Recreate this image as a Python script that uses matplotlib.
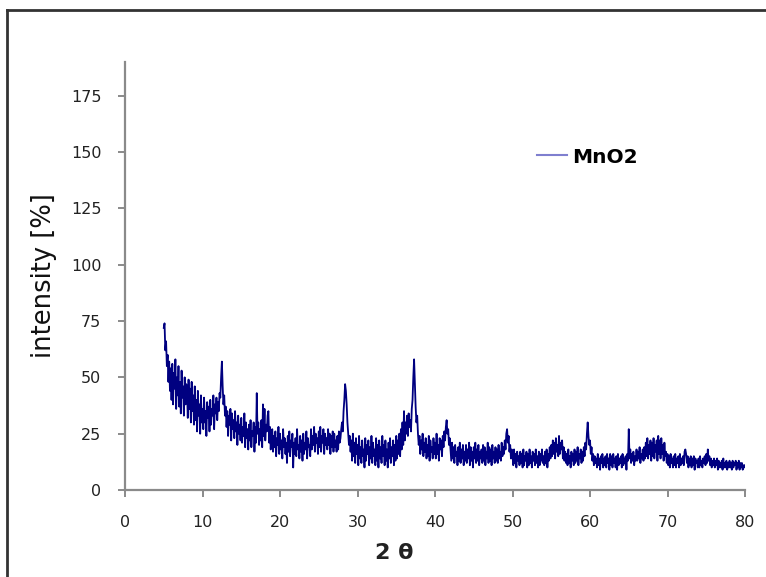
import numpy as np
import matplotlib
matplotlib.use("Agg")
import matplotlib.pyplot as plt
from matplotlib.lines import Line2D

# XRD pattern of MnO2 (0.1 deg step from 5 to 80)
intensity = [
    72, 74, 62, 66, 55, 60, 48, 57, 44, 54,   # 5
    40, 56, 38, 52, 45, 58, 36, 50, 42, 55,   # 6
    37, 48, 34, 53, 41, 46, 33, 50, 38, 47,   # 7
    44, 32, 49, 36, 45, 30, 48, 35, 42, 29,   # 8
    46, 31, 40, 26, 44, 33, 38, 25, 42, 30,   # 9
    36, 27, 41, 30, 35, 24, 39, 32, 37, 26,   # 10
    40, 29, 36, 33, 42, 27, 38, 34, 41, 31,   # 11
    39, 35, 43, 41, 50, 57, 46, 38, 42, 33,   # 12
    37, 28, 35, 24, 33, 29, 36, 22, 34, 27,   # 13
    31, 23, 35, 26, 30, 20, 33, 25, 29, 22,   # 14
    32, 21, 28, 24, 34, 19, 30, 23, 27, 18,   # 15
    29, 22, 31, 19, 26, 24, 30, 17, 28, 21,   # 16
    43, 25, 30, 20, 27, 22, 31, 19, 38, 24,   # 17
    36, 22, 29, 26, 33, 35, 21, 28, 18, 25,   # 18
    27, 17, 24, 19, 26, 15, 23, 20, 28, 16,   # 19
    25, 18, 22, 14, 27, 19, 23, 16, 21, 12,   # 20
    24, 17, 26, 15, 22, 19, 25, 10, 21, 16,   # 21
    23, 15, 27, 18, 20, 14, 24, 17, 22, 13,   # 22
    25, 16, 21, 18, 26, 14, 23, 19, 20, 15,   # 23
    27, 18, 24, 20, 28, 17, 25, 21, 23, 16,   # 24
    26, 19, 28, 17, 24, 21, 27, 16, 25, 20,   # 25
    23, 18, 27, 20, 25, 16, 24, 19, 26, 17,   # 26
    25, 19, 22, 17, 24, 18, 26, 21, 23, 27,   # 27
    30, 26, 35, 40, 47, 44, 38, 30, 25, 20,   # 28
    24, 17, 22, 13, 25, 15, 21, 12, 23, 16,   # 29
    20, 11, 24, 14, 19, 12, 22, 15, 18, 10,   # 30
    23, 13, 20, 16, 22, 11, 19, 14, 24, 12,   # 31
    21, 15, 18, 11, 23, 13, 20, 10, 22, 14,   # 32
    19, 12, 24, 15, 20, 11, 22, 13, 18, 10,   # 33
    21, 14, 23, 12, 19, 15, 22, 11, 20, 13,   # 34
    24, 14, 22, 16, 25, 15, 27, 18, 30, 20,   # 35
    35, 22, 30, 25, 33, 24, 34, 28, 31, 26,   # 36
    36, 40, 50, 58, 48, 37, 30, 33, 25, 20,   # 37
    24, 16, 22, 18, 25, 15, 21, 17, 23, 14,   # 38
    20, 15, 24, 13, 22, 17, 19, 14, 23, 16,   # 39
    21, 14, 25, 16, 20, 13, 23, 18, 22, 15,   # 40
    24, 19, 26, 22, 28, 31, 25, 27, 20, 23,   # 41
    18, 13, 21, 14, 19, 12, 20, 15, 17, 11,   # 42
    19, 13, 21, 12, 18, 14, 20, 11, 17, 13,   # 43
    20, 12, 18, 14, 21, 11, 19, 13, 17, 10,   # 44
    19, 14, 21, 12, 18, 13, 20, 11, 17, 14,   # 45
    18, 12, 20, 13, 19, 11, 17, 14, 21, 12,   # 46
    19, 13, 18, 11, 20, 14, 17, 12, 19, 13,   # 47
    18, 12, 20, 14, 17, 13, 21, 15, 19, 16,   # 48
    22, 18, 25, 27, 21, 24, 17, 20, 14, 18,   # 49
    15, 11, 18, 12, 16, 10, 17, 13, 15, 11,   # 50
    17, 12, 16, 10, 18, 11, 15, 13, 17, 10,   # 51
    16, 11, 18, 12, 15, 10, 17, 13, 16, 11,   # 52
    18, 12, 15, 10, 17, 11, 16, 13, 18, 12,   # 53
    15, 11, 17, 12, 18, 10, 16, 13, 19, 14,   # 54
    20, 15, 22, 16, 21, 14, 23, 17, 20, 15,   # 55
    24, 16, 21, 18, 22, 14, 19, 13, 17, 12,   # 56
    16, 11, 18, 12, 15, 10, 17, 13, 16, 11,   # 57
    18, 12, 17, 13, 19, 11, 16, 14, 18, 12,   # 58
    17, 13, 19, 15, 21, 18, 25, 30, 24, 20,   # 59
    22, 16, 19, 13, 16, 11, 15, 12, 14, 10,   # 60
    16, 11, 14, 9, 15, 12, 16, 10, 14, 11,    # 61
    15, 10, 16, 12, 14, 9, 16, 11, 15, 10,    # 62
    16, 12, 14, 10, 15, 9, 16, 11, 14, 12,    # 63
    15, 10, 16, 11, 14, 12, 15, 9, 16, 13,    # 64
    27, 14, 18, 12, 16, 13, 17, 11, 15, 13,   # 65
    18, 13, 17, 14, 19, 12, 16, 14, 18, 13,   # 66
    19, 14, 21, 15, 23, 14, 20, 16, 22, 13,   # 67
    21, 15, 23, 14, 20, 17, 22, 13, 24, 16,   # 68
    22, 14, 23, 16, 20, 13, 21, 15, 17, 12,   # 69
    16, 11, 15, 10, 16, 12, 14, 10, 15, 11,   # 70
    16, 10, 14, 12, 15, 10, 16, 11, 14, 12,   # 71
    15, 11, 17, 18, 16, 12, 15, 10, 14, 11,   # 72
    15, 10, 14, 11, 15, 9, 14, 12, 13, 10,    # 73
    14, 10, 15, 11, 13, 10, 14, 12, 15, 11,   # 74
    16, 12, 18, 13, 15, 11, 14, 10, 13, 11,   # 75
    14, 10, 13, 11, 14, 9, 13, 10, 12, 10,    # 76
    13, 9, 14, 10, 12, 10, 13, 9, 12, 10,     # 77
    13, 10, 12, 9, 13, 10, 12, 11, 13, 9,     # 78
    12, 10, 13, 9, 12, 10, 12, 9, 11, 10,     # 79
    11,                                       # 80
]
two_theta = np.round(np.linspace(5, 80, len(intensity)), 1)

x_ticks = [0, 10, 20, 30, 40, 50, 60, 70, 80]
y_ticks = [0, 25, 50, 75, 100, 125, 150, 175]

plt.rcParams['font.family'] = ['DejaVu Sans']

fig = plt.figure(figsize=(7.66, 5.77), dpi=100)
ax = fig.add_axes([0.1632, 0.1508, 0.8094, 0.7417])

ax.plot(two_theta, intensity, color='#000080', linewidth=1.3)

ax.set_xlim(0, 80)
ax.set_ylim(0, 190)
ax.set_xticks(x_ticks)
ax.set_yticks(y_ticks)

for side in ['top', 'right']:
    ax.spines[side].set_visible(False)
for side in ['left', 'bottom']:
    ax.spines[side].set_color('#8a8a8a')
    ax.spines[side].set_linewidth(1.6)

ax.tick_params(axis='both', direction='out', length=5, width=1.4,
               color='#8a8a8a', labelsize=11.5, labelcolor='#222222')
ax.tick_params(axis='x', pad=13)
ax.tick_params(axis='y', pad=12)

ax.set_xlabel('2 θ', fontsize=16, fontweight='bold', color='#222222')
ax.xaxis.set_label_coords(0.435, -0.125)
ax.set_ylabel('intensity [%]', fontsize=18.5, color='#111111')
ax.yaxis.set_label_coords(-0.11, 0.5)

handle = Line2D([], [], color='#7f7fcf', linewidth=1.5)
ax.legend([handle], ['MnO2'], loc='center left', bbox_to_anchor=(0.665, 0.778),
          frameon=False, borderpad=0, borderaxespad=0, handlelength=1.45,
          handletextpad=0.3, prop={'size': 14.5, 'weight': 'bold'})

# outer frame of the original picture
fig.add_artist(Line2D([0.0095, 1.0], [0.9827, 0.9827], color='#333333',
                      linewidth=2, transform=fig.transFigure))
fig.add_artist(Line2D([0.0095, 0.0095], [0.0, 0.9827], color='#333333',
                      linewidth=2, transform=fig.transFigure))

fig.savefig('out.png', dpi=100)
